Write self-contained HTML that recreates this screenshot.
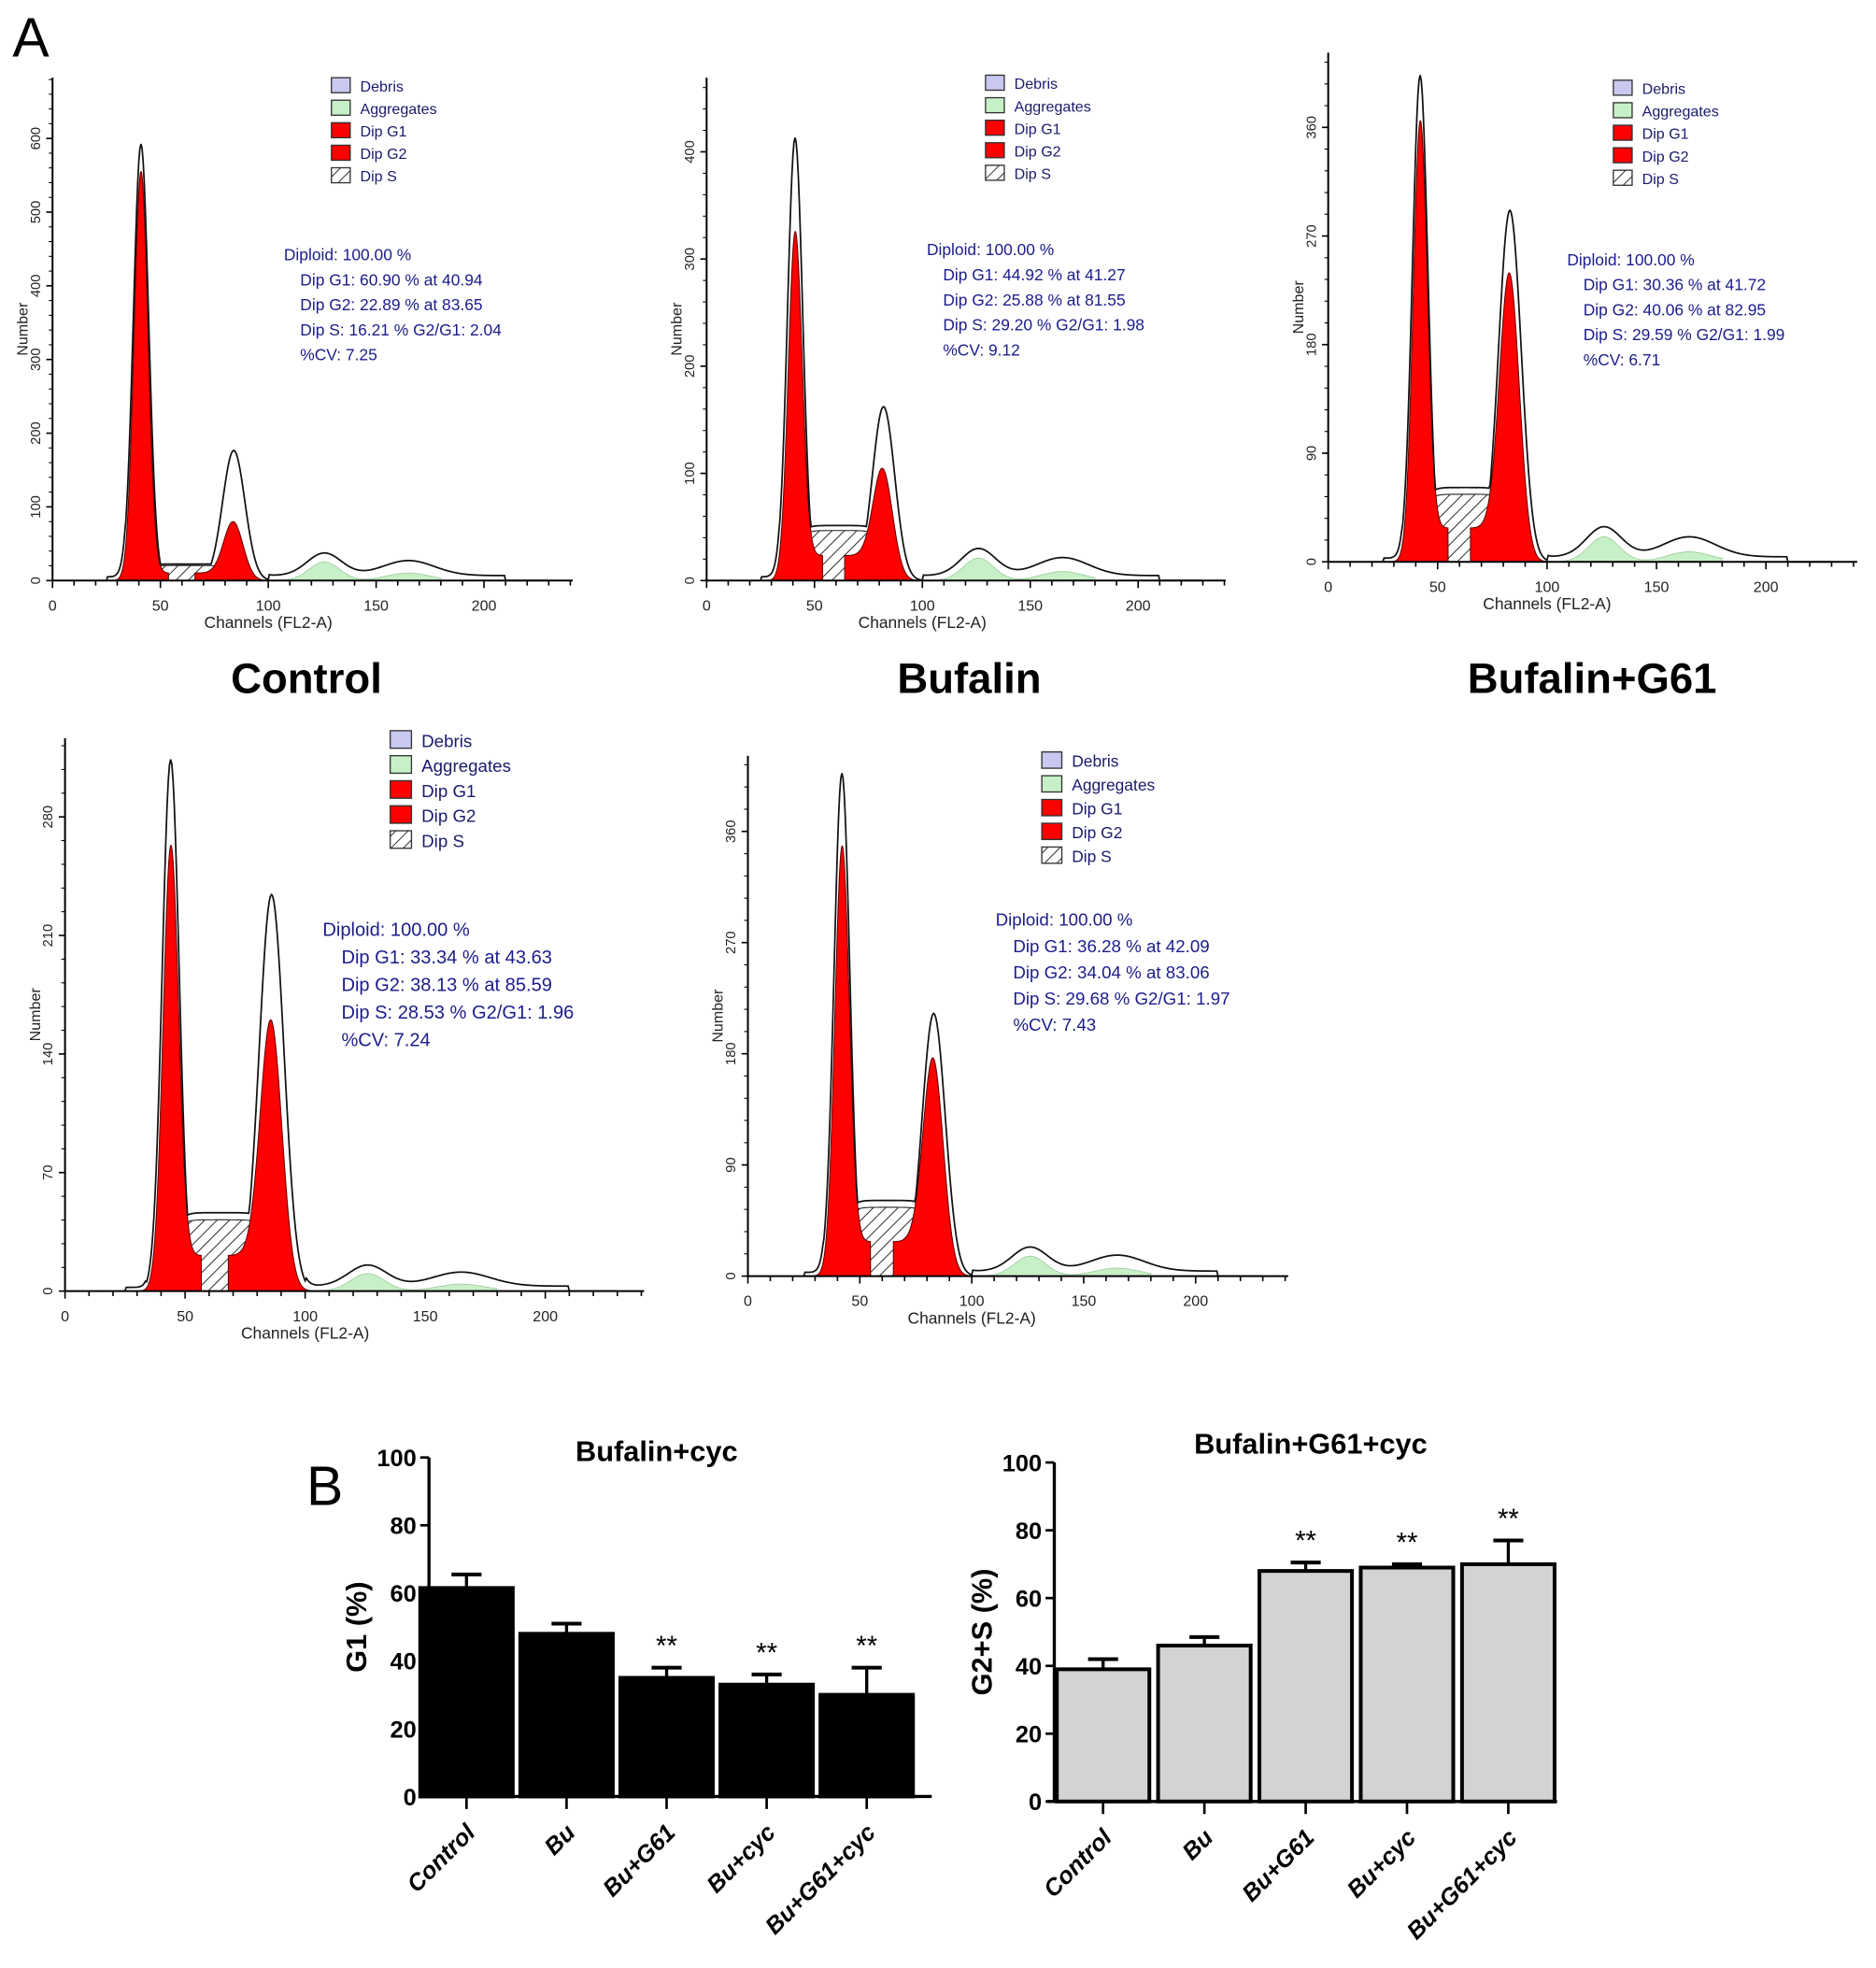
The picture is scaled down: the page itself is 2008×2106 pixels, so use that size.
<!DOCTYPE html>
<html><head><meta charset="utf-8"><style>
html,body{margin:0;padding:0;background:#fff}
svg{display:block}
text{font-family:"Liberation Sans",sans-serif}
</style></head><body>
<svg id="fig" width="2008" height="2106" viewBox="0 0 1500 1573" xmlns="http://www.w3.org/2000/svg">
<defs>
<pattern id="hatch" patternUnits="userSpaceOnUse" width="7" height="7" patternTransform="rotate(45)">
<rect width="7" height="7" fill="#fff"/><line x1="0" y1="0" x2="0" y2="7" stroke="#222" stroke-width="1.4"/>
</pattern>
</defs>
<text x="10" y="45" font-size="44">A</text>
<text x="245" y="554" font-size="34" font-weight="bold" text-anchor="middle">Control</text>
<text x="775" y="554" font-size="34" font-weight="bold" text-anchor="middle">Bufalin</text>
<text x="1273" y="554" font-size="34" font-weight="bold" text-anchor="middle">Bufalin+G61</text>
<text x="245" y="1203" font-size="44">B</text>
<g id="hists"></g>
<g id="bars"></g>
</svg>
<script>
// ---------- Histogram data ----------
var histNames = ['control','bufalin','bufalin-g61','bufalin-cyc','bufalin-g61-cyc'];
var g1Pos = [41, 41, 42, 44, 42];
var g1Red = [324, 269, 339, 342, 330];
var g1Env = [349, 354, 389, 425, 402];
var g2Pos = [84, 82, 83, 86, 83];
var g2Red = [44, 79, 217, 202, 160];
var g2Env = [104, 139, 281, 317, 210];
var sLevel = [12, 40, 54, 57, 55];
var aggH = [15, 18, 20, 14, 16];
var yTickLabels = [['0','100','200','300','400','500','600'],['0','100','200','300','400'],['0','90','180','270','360'],['0','70','140','210','280'],['0','90','180','270','360']];
var statLines = [
 ['Diploid: 100.00 %','Dip G1: 60.90 % at 40.94','Dip G2: 22.89 % at 83.65','Dip S: 16.21 %    G2/G1: 2.04','%CV: 7.25'],
 ['Diploid: 100.00 %','Dip G1: 44.92 % at 41.27','Dip G2: 25.88 % at 81.55','Dip S: 29.20 %    G2/G1: 1.98','%CV: 9.12'],
 ['Diploid: 100.00 %','Dip G1: 30.36 % at 41.72','Dip G2: 40.06 % at 82.95','Dip S: 29.59 %    G2/G1: 1.99','%CV: 6.71'],
 ['Diploid: 100.00 %','Dip G1: 33.34 % at 43.63','Dip G2: 38.13 % at 85.59','Dip S: 28.53 %    G2/G1: 1.96','%CV: 7.24'],
 ['Diploid: 100.00 %','Dip G1: 36.28 % at 42.09','Dip G2: 34.04 % at 83.06','Dip S: 29.68 %    G2/G1: 1.97','%CV: 7.43']];
// layout (pixel geometry, not data)
var L = [
 {x0:42,pc:1.725,base:464,top:62,end:458,lx:265,ly:62,tx:227,ty:208,fs:13},
 {x0:565,pc:1.725,base:464,top:62,end:980,lx:788,ly:60,tx:741,ty:204,fs:13},
 {x0:1062,pc:1.75,base:449,top:42,end:1485,lx:1290,ly:64,tx:1253,ty:212,fs:13},
 {x0:52,pc:1.92,base:1032,top:590,end:515,lx:312,ly:584,tx:258,ty:748,fs:15},
 {x0:598,pc:1.79,base:1020,top:604,end:1030,lx:833,ly:601,tx:796,ty:740,fs:14}];
var NS='http://www.w3.org/2000/svg';
function mk(tag,attrs,parent){var e=document.createElementNS(NS,tag);for(var k in attrs)e.setAttribute(k,attrs[k]);parent.appendChild(e);return e;}
function gauss(x,c,s){return Math.exp(-0.5*((x-c)/s)*((x-c)/s));}
var H=document.getElementById('hists');
for(var i=0;i<5;i++){
 var l=L[i];
 var g=mk('g',{},H);
 
 
 var X=function(ch){return l.x0+ch*l.pc;};
 var Y=function(h){return l.base-h;};
 var s1=3.2,s2=4.5;
 var sh=function(ch){var a=1/(1+Math.exp(-(ch-g1Pos[i])/2)),b=1/(1+Math.exp((ch-g2Pos[i])/2));return sLevel[i]*a*b;};
 var d='M'+X(g1Pos[i]-6)+','+l.base;
 for(var c=g1Pos[i]-6;c<=g2Pos[i]+8;c+=0.5)d+=' L'+X(c)+','+Y(sh(c));
 d+=' L'+X(g2Pos[i]+8)+','+l.base+'Z';
 var p=mk('path',{d:d,fill:'url(#hatch)',stroke:'#222','stroke-width':0.8},g);
 
 d='M'+X(105)+','+l.base;
 for(c=105;c<=180;c+=1)d+=' L'+X(c)+','+Y(aggH[i]*gauss(c,126,7)+aggH[i]*0.4*gauss(c,165,10));
 d+=' L'+X(180)+','+l.base+'Z';
 p=mk('path',{d:d,fill:'#c8f0c8',stroke:'#9c9','stroke-width':0.6},g);
 
 [[g1Pos[i],g1Red[i],s1,'dip-g1-peak'],[g2Pos[i],g2Red[i],s2,'dip-g2-peak']].forEach(function(pk){
  var dd='M'+X(pk[0]-4*pk[2])+','+l.base;
  for(var c=pk[0]-4*pk[2];c<=pk[0]+4*pk[2];c+=0.25)dd+=' L'+X(c)+','+Y(pk[1]*gauss(c,pk[0],pk[2])+sh(c)*0.5);
  dd+=' L'+X(pk[0]+4*pk[2])+','+l.base+'Z';
  var pp=mk('path',{d:dd,fill:'#ff0000',stroke:'#600','stroke-width':0.8},g);
  
 });
 d='';
 for(c=25;c<=230;c+=0.5){
  var v=Math.max(g1Env[i]*gauss(c,g1Pos[i],s1*1.1),g2Env[i]*gauss(c,g2Pos[i],s2*1.15),sh(c)*1.1)+aggH[i]*1.2*gauss(c,126,8)+aggH[i]*0.8*gauss(c,165,12)+(c>100&&c<210?4:0)+(c>25&&c<34?3:0);
  d+=(d?' L':'M')+X(c)+','+Y(v);
 }
 p=mk('path',{d:d,fill:'none',stroke:'#111','stroke-width':1.3},g);
 
 mk('line',{x1:l.x0,y1:l.base,x2:l.end,y2:l.base,stroke:'#000','stroke-width':1.5},g);
 mk('line',{x1:l.x0,y1:l.base,x2:l.x0,y2:l.top,stroke:'#000','stroke-width':1.5},g);
 for(c=0;c*l.pc+l.x0<=l.end;c+=10){mk('line',{x1:X(c),y1:l.base,x2:X(c),y2:l.base+(c%50==0?6:4),stroke:'#000','stroke-width':1.2},g);}
 for(c=0;c<=200;c+=50){var t=mk('text',{x:X(c),y:l.base+24,'font-size':12,'text-anchor':'middle',fill:'#222'},g);t.textContent=c;}
 var tl=mk('text',{x:X(100),y:l.base+38,'font-size':13,'text-anchor':'middle',fill:'#222'},g);tl.textContent='Channels (FL2-A)';
 
 var yl=yTickLabels[i],step=(l.base-l.top-25)/(yl.length-1+0.4);
 for(var k=0;k<yl.length;k++){var yy=l.base-k*step;
  mk('line',{x1:l.x0-5,y1:yy,x2:l.x0,y2:yy,stroke:'#000','stroke-width':1.2},g);
  var tt=mk('text',{x:l.x0-10,y:yy,'font-size':11,'text-anchor':'middle',fill:'#222',transform:'rotate(-90 '+(l.x0-10)+' '+yy+')'},g);tt.textContent=yl[k];}
 for(yy=l.base;yy>l.top;yy-=step/5)mk('line',{x1:l.x0-3,y1:yy,x2:l.x0,y2:yy,stroke:'#000','stroke-width':0.8},g);
 var ym=(l.base+l.top)/2;
 var yt=mk('text',{x:l.x0-20,y:ym,'font-size':12,'text-anchor':'middle',fill:'#222',transform:'rotate(-90 '+(l.x0-20)+' '+ym+')'},g);yt.textContent='Number';
 
 var lg=mk('g',{},g);
 var ln=['Debris','Aggregates','Dip G1','Dip G2','Dip S'],lc=['#c8c8f0','#c8f0c8','#ff0000','#ff0000','url(#hatch)'];
 var sp=l.fs+5;
 for(k=0;k<5;k++){mk('rect',{x:l.lx,y:l.ly+k*sp,width:l.fs+2,height:l.fs-1,fill:lc[k],stroke:'#333','stroke-width':1},lg);
  var lt=mk('text',{x:l.lx+l.fs+10,y:l.ly+k*sp+l.fs-2,'font-size':l.fs-1,fill:'#1a1a6c'},lg);lt.textContent=ln[k];}
 var sg=mk('g',{},g);
 for(k=0;k<5;k++){var st=mk('text',{x:l.tx+(k?l.fs:0),y:l.ty+k*(l.fs+7),'font-size':l.fs,fill:'#1c1c8c','xml:space':'preserve'},sg);st.textContent=statLines[i][k];}
}
// ---------- Bar chart data ----------
var categories = ['Control','Bu','Bu+G61','Bu+cyc','Bu+G61+cyc'];
var g1Values = [61.5, 48, 35, 33, 30];
var g1Errors = [4, 3, 3, 3, 8];
var g2sValues = [39, 46, 68, 69, 70];
var g2sErrors = [3, 2.5, 2.5, 1, 7];
var g1Stars = ['', '', '**', '**', '**'];
var g2sStars = ['', '', '**', '**', '**'];
var yTicks = [0, 20, 40, 60, 80, 100];
var B=document.getElementById('bars');
function barChart(cfg){
 var g=mk('g',{},B);
 
 
 var y=function(v){return cfg.y0-(cfg.y0-cfg.y100)*v/100;};
 var x=function(i){return cfg.x0+cfg.first+i*cfg.step;};
 mk('line',{x1:cfg.x0,y1:cfg.y0,x2:cfg.x0,y2:cfg.y100,stroke:'#000','stroke-width':2.5},g);
 mk('line',{x1:cfg.x0-6,y1:cfg.y0,x2:cfg.xEnd,y2:cfg.y0,stroke:'#000','stroke-width':2.5},g);
 yTicks.forEach(function(t){mk('line',{x1:cfg.x0-7,y1:y(t),x2:cfg.x0,y2:y(t),stroke:'#000','stroke-width':2},g);
  var tx=mk('text',{x:cfg.x0-10,y:y(t)+7,'font-size':19,'font-weight':'bold','text-anchor':'end'},g);tx.textContent=t;});
 for(var i=0;i<categories.length;i++){
  var v=cfg.vals[i],e=cfg.errs[i],cx=x(i);
  var r=mk('rect',{x:cx-cfg.bw/2,y:y(v),width:cfg.bw,height:cfg.y0-y(v),fill:cfg.fill,stroke:'#000','stroke-width':3},g);
  
  
  mk('line',{x1:cx,y1:y(v),x2:cx,y2:y(v+e),stroke:'#000','stroke-width':2.5},g);
  var eb=mk('line',{x1:cx-12,y1:y(v+e),x2:cx+12,y2:y(v+e),stroke:'#000','stroke-width':3},g);
  
  
  if(cfg.stars[i]){var s=mk('text',{x:cx,y:y(v+e)-10,'font-size':22,'text-anchor':'middle'},g);s.textContent=cfg.stars[i];}
  mk('line',{x1:cx,y1:cfg.y0,x2:cx,y2:cfg.y0+10,stroke:'#000','stroke-width':2},g);
  var lb=mk('text',{x:cx+8,y:cfg.y0+30,'font-size':19,'font-weight':'bold','font-style':'italic','text-anchor':'end',transform:'rotate(-45 '+(cx+8)+' '+(cfg.y0+30)+')'},g);
  lb.textContent=categories[i];
  
  
 }
 var ym=(cfg.y0+cfg.y100)/2;
 var at=mk('text',{x:cfg.x0-50,y:ym,'font-size':23,'font-weight':'bold','text-anchor':'middle',transform:'rotate(-90 '+(cfg.x0-50)+' '+ym+')'},g);at.textContent=cfg.ytitle;
 
 var tt=mk('text',{x:cfg.tx,y:cfg.ty,'font-size':23,'font-weight':'bold','text-anchor':'middle'},g);tt.textContent=cfg.title;
 
}
barChart({name:'g1-bar-chart',x0:343,y0:1436,y100:1165,xEnd:745,first:30,step:80,bw:74,vals:g1Values,errs:g1Errors,stars:g1Stars,fill:'#000',ytitle:'G1 (%)',title:'Bufalin+cyc',tx:525,ty:1168});
barChart({name:'g2s-bar-chart',x0:843,y0:1440,y100:1169,xEnd:1245,first:39,step:81,bw:74,vals:g2sValues,errs:g2sErrors,stars:g2sStars,fill:'#d3d3d3',ytitle:'G2+S (%)',title:'Bufalin+G61+cyc',tx:1048,ty:1162});
</script>
</body></html>
